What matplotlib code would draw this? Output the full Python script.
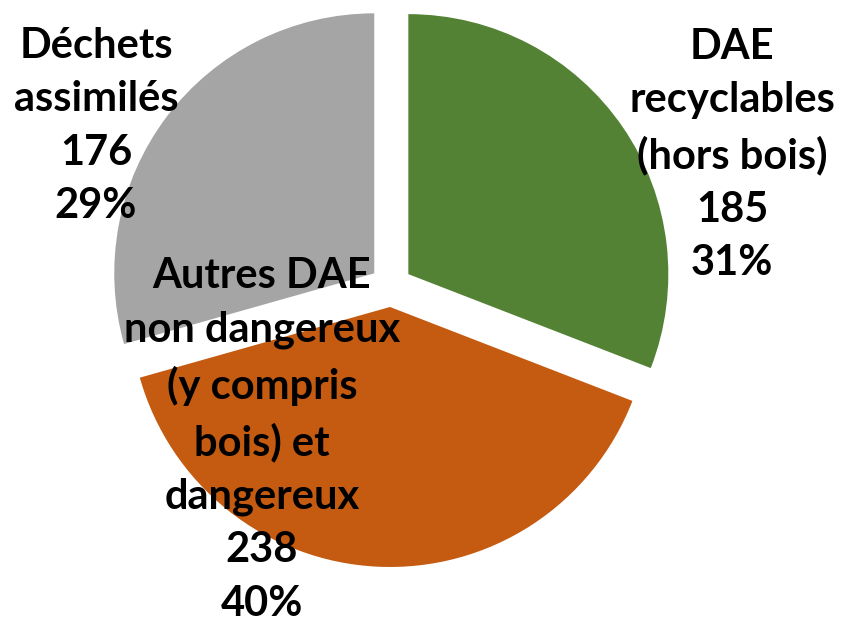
import matplotlib
matplotlib.use("Agg")
import matplotlib.pyplot as plt

categories = ["DAE\nrecyclables\n(hors bois)", "Autres DAE\nnon dangereux\n(y compris\nbois) et\ndangereux", "Déchets\nassimilés"]
values = [185, 238, 176]
colors = ["#548235", "#C55A11", "#A5A5A5"]
label_pos = [(341, 131), (-129, -154), (-295, 160)]

W, H = 841, 624
cx, cy = 391, 286
R = 260

fig = plt.figure(figsize=(W / 100, H / 100), dpi=100)
ax = fig.add_axes([0, 0, 1, 1])

ax.pie(values, colors=colors, startangle=90, counterclock=False,
       radius=R, explode=[21] * len(values), center=(0, 0),
       wedgeprops=dict(linewidth=0))
ax.set_xlim(-cx, W - cx)
ax.set_ylim(-(H - cy), cy)
ax.set_aspect("equal")
ax.axis("off")

total = sum(values)
for cat, v, (x, y) in zip(categories, values, label_pos):
    pct = round(100 * v / total)
    ax.text(x, y, f"{cat}\n{v}\n{pct}%", ha="center", va="center",
            fontsize=30, fontweight="bold", family=["Lato", "DejaVu Sans"],
            linespacing=1.5, color="black")

fig.savefig("out.png", dpi=100)
